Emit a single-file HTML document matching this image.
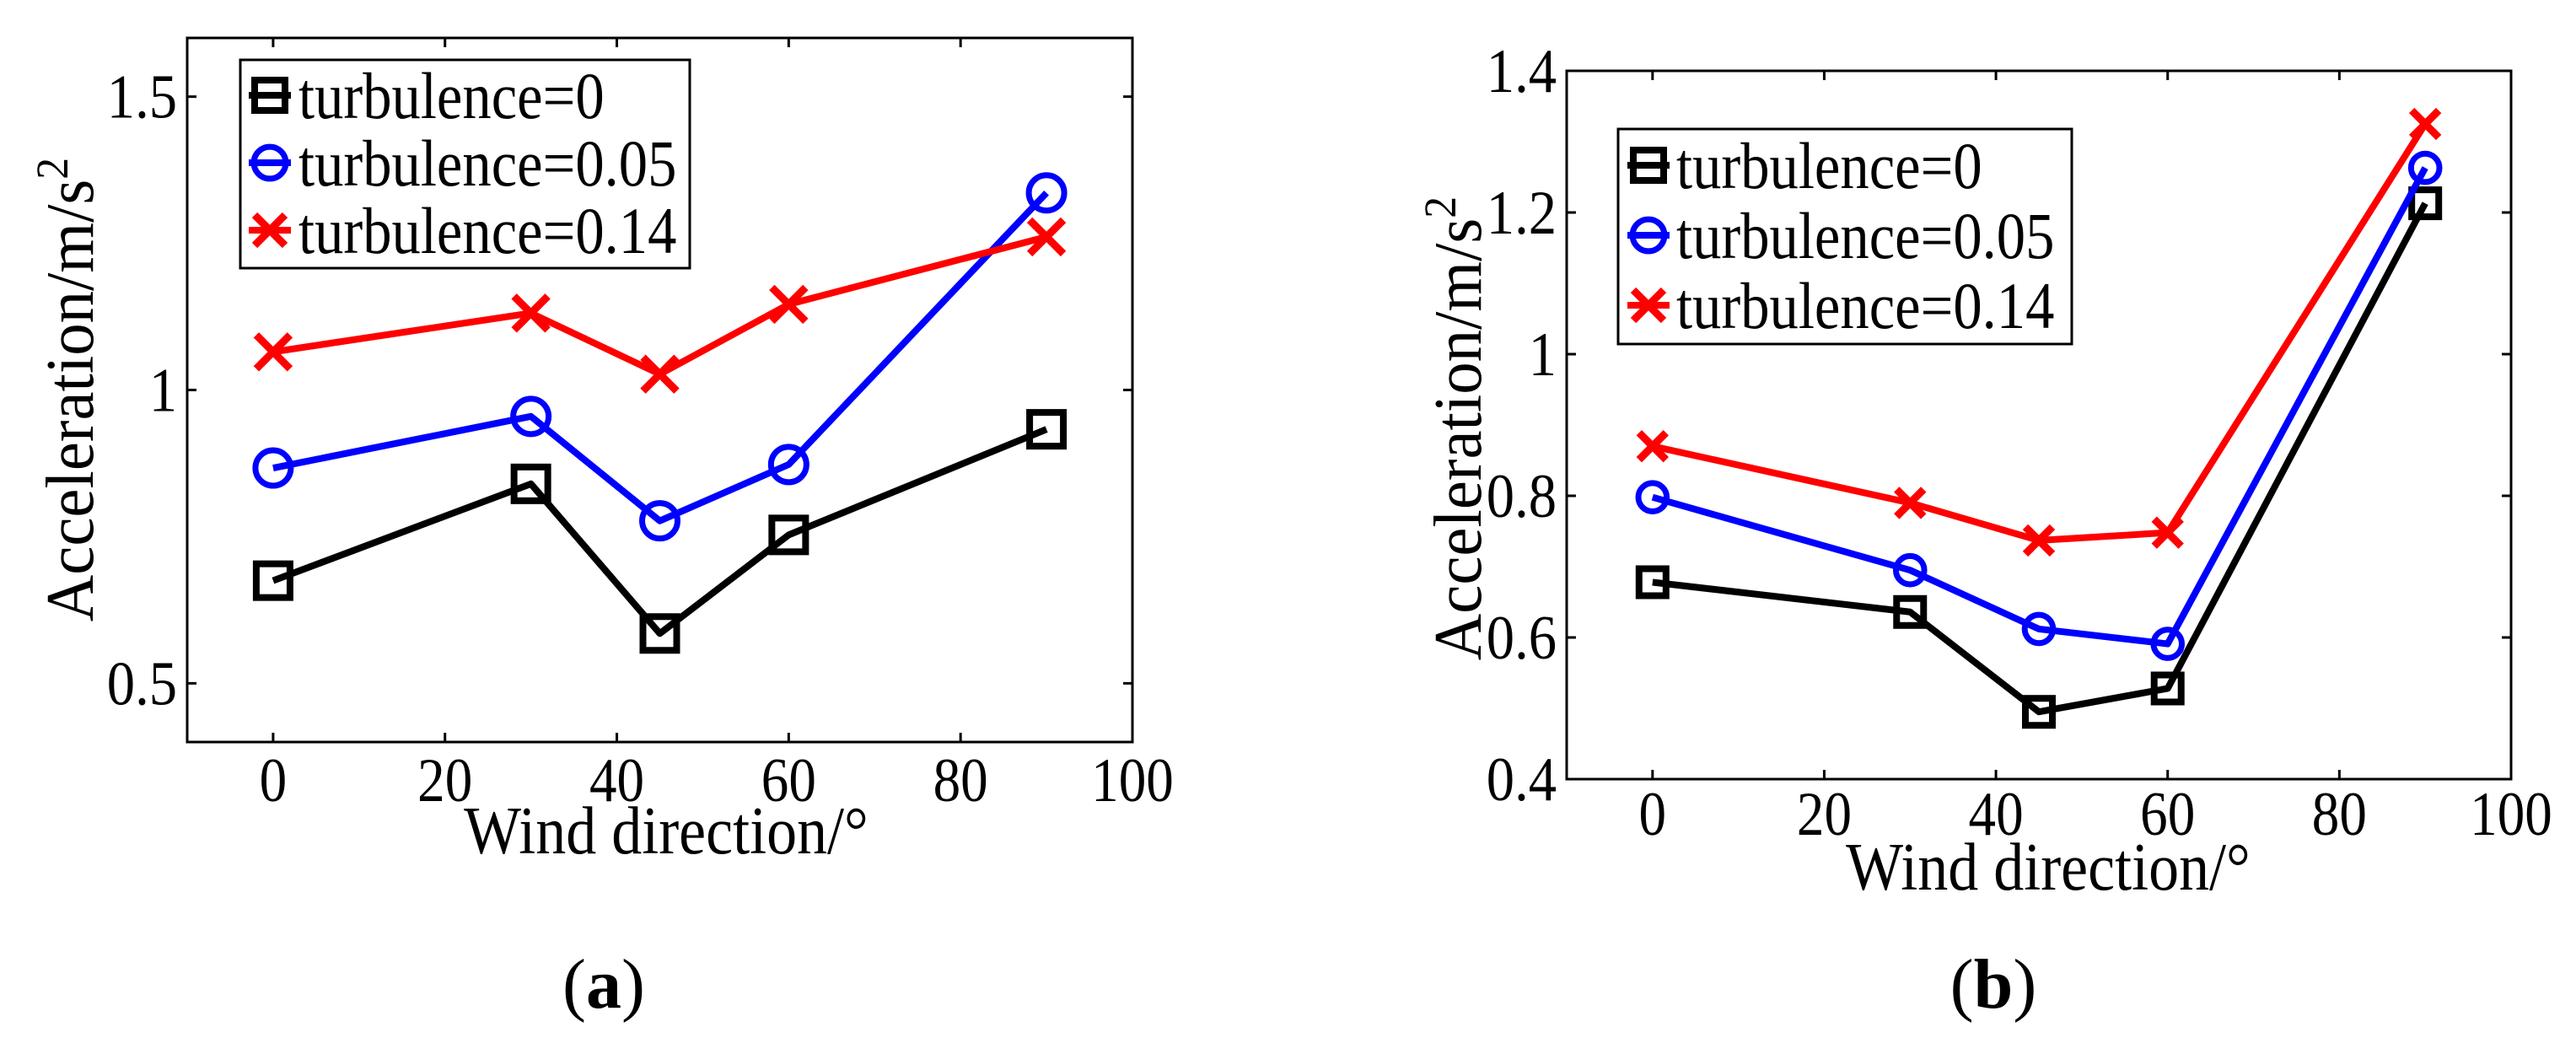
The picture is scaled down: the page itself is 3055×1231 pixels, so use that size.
<!DOCTYPE html>
<html><head><meta charset="utf-8"><style>
html,body{margin:0;padding:0;background:#fff;}
svg{display:block;}
text{font-family:"Liberation Serif",serif;fill:#000;}
</style></head><body>
<svg id="chart" width="3055" height="1231" viewBox="0 0 3055 1231" xmlns="http://www.w3.org/2000/svg"></svg>
<script>
const categories = [0, 30, 45, 60, 90];
const seriesNames = ["turbulence=0", "turbulence=0.05", "turbulence=0.14"];
const aBlack = [0.675, 0.840, 0.585, 0.753, 0.933];
const aBlue = [0.867, 0.955, 0.777, 0.873, 1.336];
const aRed = [1.065, 1.131, 1.027, 1.146, 1.261];
const bBlack = [0.678, 0.636, 0.495, 0.528, 1.213];
const bBlue = [0.798, 0.695, 0.612, 0.591, 1.263];
const bRed = [0.870, 0.790, 0.737, 0.748, 1.325];
const xTicks = [0, 20, 40, 60, 80, 100];
const aYTicks = [0.5, 1, 1.5];
const aYTickLabels = ["0.5", "1", "1.5"];
const bYTicks = [0.4, 0.6, 0.8, 1, 1.2, 1.4];
const bYTickLabels = ["0.4", "0.6", "0.8", "1", "1.2", "1.4"];

const NS = "http://www.w3.org/2000/svg";
const svg = document.getElementById("chart");
function el(tag, attrs, parent) {
  const e = document.createElementNS(NS, tag);
  for (const k in attrs) e.setAttribute(k, attrs[k]);
  (parent || svg).appendChild(e);
  return e;
}
function txt(parent, x, y, s, size, anchor, sx, extra) {
  const t = el("text", {transform: "translate(" + x + "," + y + ") scale(" + sx + ",1)" + (extra || ""), "font-size": size, "text-anchor": anchor}, parent);
  t.textContent = s;
  return t;
}
function marker(g, kind, cx, cy, s, color) {
  let m;
  if (kind === "sq") {
    m = el("rect", {x: cx - s, y: cy - s, width: 2 * s, height: 2 * s, fill: "none", stroke: color, "stroke-width": 8}, g);
  } else if (kind === "ci") {
    m = el("circle", {cx: cx, cy: cy, r: s * 1.05, fill: "none", stroke: color, "stroke-width": 7}, g);
  } else {
    m = el("path", {d: "M" + (cx - s) + " " + (cy - s) + "L" + (cx + s) + " " + (cy + s) + "M" + (cx - s) + " " + (cy + s) + "L" + (cx + s) + " " + (cy - s), stroke: color, "stroke-width": 9, fill: "none"}, g);
  }
  return m;
}

function panel(cfg) {
  const g = el("g", {});
  
  
  const xs = v => cfg.L + (v - (-10)) / 110 * (cfg.R - cfg.L);
  const ys = v => cfg.B - (v - cfg.ymin) / (cfg.ymax - cfg.ymin) * (cfg.B - cfg.T);
  const frame = el("rect", {x: cfg.L, y: cfg.T, width: cfg.R - cfg.L, height: cfg.B - cfg.T, fill: "none", stroke: "#000", "stroke-width": 3}, g);
  
  
  xTicks.forEach(v => {
    const x = xs(v);
    const tk = el("path", {d: "M" + x + " " + cfg.B + "v-11M" + x + " " + cfg.T + "v11", stroke: "#000", "stroke-width": 3}, g);
    
    
    const t = txt(g, x, cfg.xlabY, String(v), 74, "middle", 0.88);
    
    
  });
  cfg.yt.forEach((v, i) => {
    const y = ys(v);
    const tk = el("path", {d: "M" + cfg.L + " " + y + "h11M" + cfg.R + " " + y + "h-11", stroke: "#000", "stroke-width": 3}, g);
    
    
    const t = txt(g, cfg.L - 12, y + 25, cfg.ytl[i], 74, "end", 0.9);
    
    
  });
  const xt = txt(g, cfg.xtX, cfg.xtY, "Wind direction/°", 80, "middle", 0.9);
  
  
  const yt = el("text", {transform: "translate(" + cfg.ytX + "," + cfg.ytY + ") rotate(-90) scale(0.96,1)", "font-size": 80, "text-anchor": "middle"}, g);
  yt.innerHTML = 'Acceleration/m/s<tspan dy="-30" font-size="54">2</tspan>';
  
  
  const colors = ["#000", "#0000ff", "#ff0000"];
  const kinds = ["sq", "ci", "x"];
  const names = ["series-turbulence-0", "series-turbulence-0.05", "series-turbulence-0.14"];
  cfg.series.forEach((vals, si) => {
    const sg = el("g", {}, g);
    
    
    const pts = categories.map((c, i) => xs(c) + "," + ys(vals[i])).join(" ");
    const pl = el("polyline", {points: pts, fill: "none", stroke: colors[si], "stroke-width": 8, "stroke-linejoin": "round"}, sg);
    
    
    categories.forEach((c, i) => {
      const m = marker(sg, kinds[si], xs(c), ys(vals[i]), cfg.ms, colors[si]);
      
      
    });
  });
  const lg = el("g", {}, g);
  
  
  el("rect", {x: cfg.lg.x, y: cfg.lg.y, width: cfg.lg.w, height: cfg.lg.h, fill: "#fff", stroke: "#000", "stroke-width": 3}, lg);
  seriesNames.forEach((n, i) => {
    const cy = cfg.lg.r0 + i * cfg.lg.dr;
    const eg = el("g", {}, lg);
    
    
    el("line", {x1: cfg.lg.mx - 25, x2: cfg.lg.mx + 25, y1: cy, y2: cy, stroke: colors[i], "stroke-width": 8}, eg);
    marker(eg, kinds[i], cfg.lg.mx, cy, 18, colors[i]);
    txt(eg, cfg.lg.tx, cy + 27, n, 78, "start", 0.88);
  });
  const pl = el("text", {x: cfg.plX, y: 1195, "font-size": 84, "text-anchor": "middle"}, g);
  pl.innerHTML = '(<tspan font-weight="bold">' + cfg.letter + '</tspan>)';
  
  
}

panel({name: "panel-a", L: 222, R: 1343, T: 45, B: 880, ymin: 0.4, ymax: 1.6,
  yt: aYTicks, ytl: aYTickLabels, xlabY: 950, xtX: 790, xtY: 1012, ytX: 110, ytY: 462,
  series: [aBlack, aBlue, aRed], ms: 20,
  lg: {x: 285, y: 71, w: 533, h: 247, r0: 113, dr: 80, mx: 320, tx: 354},
  letter: "a", plX: 716});
panel({name: "panel-b", L: 1858, R: 2978, T: 84, B: 924, ymin: 0.4, ymax: 1.4,
  yt: bYTicks, ytl: bYTickLabels, xlabY: 990, xtX: 2429, xtY: 1055, ytX: 1756, ytY: 508,
  series: [bBlack, bBlue, bRed], ms: 16,
  lg: {x: 1919, y: 153, w: 538, h: 255, r0: 196, dr: 83, mx: 1955, tx: 1988},
  letter: "b", plX: 2364});
</script>
</body></html>
